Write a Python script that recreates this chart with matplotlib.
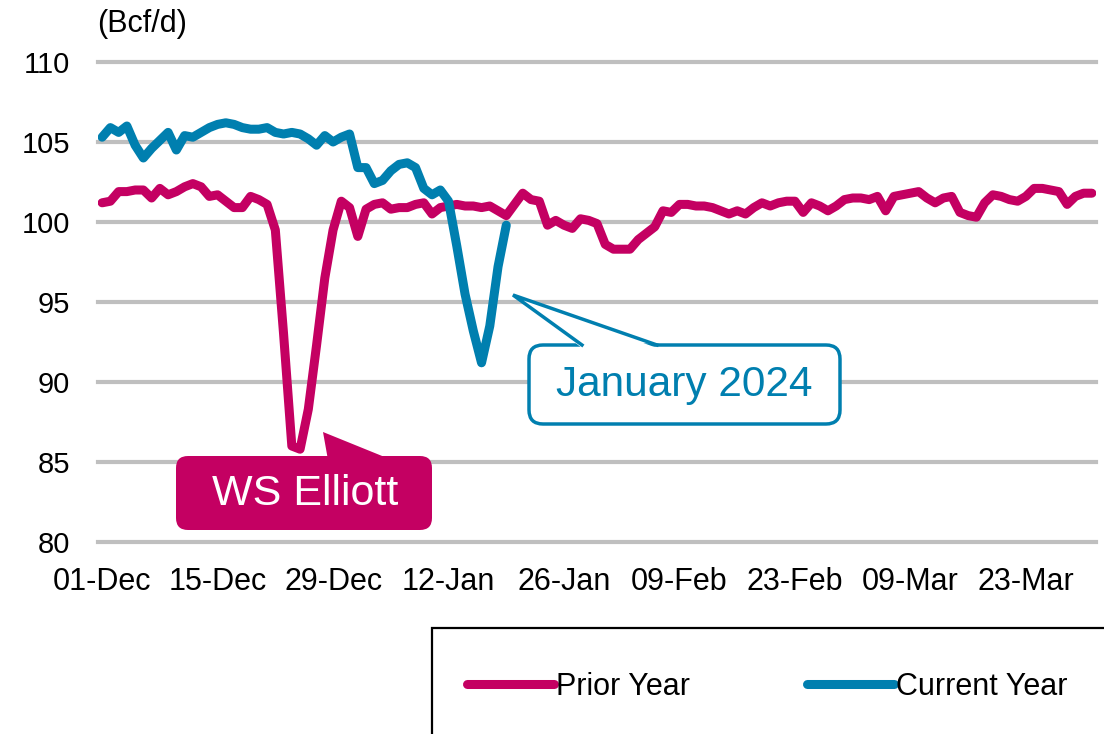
import numpy as np
import pandas as pd
import matplotlib
matplotlib.use('Agg')
import matplotlib.pyplot as plt
from matplotlib.patches import FancyBboxPatch, Polygon, Rectangle
from matplotlib.lines import Line2D
from matplotlib.transforms import IdentityTransform

plt.rcParams['font.family'] = ['Liberation Sans', 'DejaVu Sans']

# daily dry gas production, Bcf/d, 01-Dec .. 31-Mar
dates = pd.date_range('2022-12-01', '2023-03-31', freq='D')
prior_year = [
    101.2, 101.3, 101.9, 101.9, 102.0, 102.0, 101.5, 102.1, 101.7, 101.9,
    102.2, 102.4, 102.2, 101.6, 101.7, 101.3, 100.9, 100.9, 101.6, 101.4,
    101.1, 99.5, 93.0, 86.0, 85.8, 88.3, 92.3, 96.5, 99.5, 101.3,
    100.9, 99.1, 100.8, 101.1, 101.2, 100.8, 100.9, 100.9, 101.1, 101.2,
    100.5, 100.9, 101.0, 101.1, 101.0, 101.0, 100.9, 101.0, 100.7, 100.4,
    101.1, 101.8, 101.4, 101.3, 99.8, 100.1, 99.8, 99.6, 100.2, 100.1,
    99.9, 98.6, 98.3, 98.3, 98.3, 98.9, 99.3, 99.7, 100.7, 100.6,
    101.1, 101.1, 101.0, 101.0, 100.9, 100.7, 100.5, 100.7, 100.5, 100.9,
    101.2, 101.0, 101.2, 101.3, 101.3, 100.6, 101.2, 101.0, 100.7, 101.0,
    101.4, 101.5, 101.5, 101.4, 101.6, 100.7, 101.6, 101.7, 101.8, 101.9,
    101.5, 101.2, 101.5, 101.6, 100.6, 100.4, 100.3, 101.2, 101.7, 101.6,
    101.4, 101.3, 101.6, 102.1, 102.1, 102.0, 101.9, 101.1, 101.6, 101.8,
    101.8,
]
current_year = [
    105.3, 105.9, 105.6, 106.0, 104.8, 104.0, 104.6, 105.1, 105.6, 104.5,
    105.4, 105.3, 105.6, 105.9, 106.1, 106.2, 106.1, 105.9, 105.8, 105.8,
    105.9, 105.6, 105.5, 105.6, 105.5, 105.2, 104.8, 105.4, 105.0, 105.3,
    105.5, 103.4, 103.4, 102.4, 102.6, 103.2, 103.6, 103.7, 103.4, 102.1,
    101.7, 102.0, 101.3, 98.5, 95.5, 93.2, 91.2, 93.5, 97.2, 99.8,
]
tick_every = 14
yticks = [80, 85, 90, 95, 100, 105, 110]

magenta = '#C40062'
blue = '#007FAF'

W, H = 1104, 734
fig = plt.figure(figsize=(W / 100, H / 100), dpi=100)
ax = fig.add_axes([98 / W, 1 - 542 / H, 998 / W, 480 / H])

x_prior = np.arange(len(prior_year))
x_curr = np.arange(len(current_year))

for v in yticks:
    ax.axhline(v, color='#BFBFBF', lw=3, zorder=0, clip_on=False)

ax.plot(x_prior, prior_year, color=magenta, lw=6.5, solid_joinstyle='round',
        solid_capstyle='round', label='Prior Year', zorder=3)
ax.plot(x_curr, current_year, color=blue, lw=6.5, solid_joinstyle='round',
        solid_capstyle='round', label='Current Year', zorder=4)

ax.set_xlim(-0.5, len(prior_year) - 0.5)
ax.set_ylim(80, 110)
ticks = np.arange(0, len(dates), tick_every)
ax.set_xticks(ticks)
ax.set_xticklabels([d.strftime('%d-%b') for d in dates[ticks]])
ax.set_yticks(yticks)
ax.tick_params(axis='both', length=0, colors='black')
ax.tick_params(axis='x', pad=18, labelsize=22)
ax.tick_params(axis='y', pad=20, labelsize=21)
for s in ax.spines.values():
    s.set_visible(False)

fig.text(97 / W, 1 - 24 / H, '(Bcf/d)', fontsize=22, ha='left', va='center')

# callouts, pixel coords (y from top)
ident = IdentityTransform()
def P(x, y):
    return (x, H - y)

# WS Elliott
box = FancyBboxPatch(P(176, 530), 432 - 176, 530 - 456,
                     boxstyle='round,pad=0,rounding_size=12',
                     fc=magenta, ec='none', transform=ident, zorder=5)
fig.patches.append(box)
fig.patches.append(Polygon([P(323, 432), P(328, 460), P(392, 460)], closed=True,
                           fc=magenta, ec='none', transform=ident, zorder=5))
fig.text(305 / W, 1 - 494 / H, 'WS Elliott', color='white', fontsize=31,
         ha='center', va='center', zorder=6)

# January 2024
box2 = FancyBboxPatch(P(529, 424), 840 - 529, 424 - 345,
                      boxstyle='round,pad=0,rounding_size=14',
                      fc='white', ec=blue, lw=2.5, transform=ident, zorder=5)
fig.patches.append(box2)
fig.patches.append(Polygon([P(582, 348), P(513, 295), P(657, 348)], closed=True,
                           fc='white', ec='none', transform=ident, zorder=6))
fig.lines.append(Line2D([582, 513, 657], [H - 345, H - 295, H - 345], color=blue,
                        lw=2.5, solid_joinstyle='miter', transform=ident, zorder=7))
fig.text(684 / W, 1 - 385 / H, 'January 2024', color=blue, fontsize=30.5,
         ha='center', va='center', zorder=8)

# legend box
fig.patches.append(Rectangle(P(432, 745), 700, 745 - 628, fc='white', ec='black',
                             lw=1.6, transform=ident, zorder=1))
handles, labels = ax.get_legend_handles_labels()
leg = fig.legend(handles, labels, loc='center left',
                 bbox_to_anchor=(467 / W, 1 - 687 / H), ncol=2, frameon=False,
                 fontsize=22, handlelength=2.85, handletextpad=0.05,
                 columnspacing=3.85, borderpad=0, borderaxespad=0)
leg.set_zorder(2)

fig.savefig('out.png', dpi=100)
